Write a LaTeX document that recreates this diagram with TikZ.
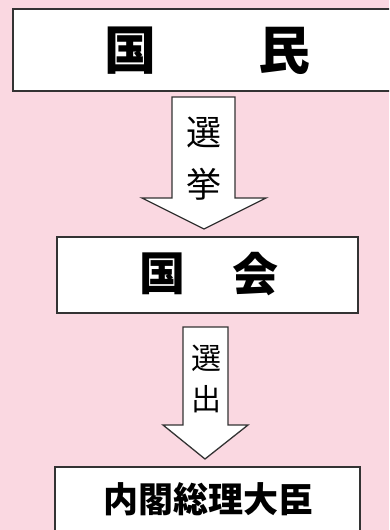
\documentclass[tikz,border=0pt]{standalone}
\usepackage{fontspec}
\newfontfamily\jpfont{Noto Sans CJK JP}
\definecolor{bgpink}{HTML}{FAD8E1}
\definecolor{edge}{HTML}{333333}
\begin{document}
\begin{tikzpicture}[x=1pt,y=-1pt,
  box/.style={draw=edge,line width=2pt,fill=white},
  bigtxt/.style={font=\jpfont\bfseries\fontsize{52}{52}\selectfont,inner sep=0pt},
  midtxt/.style={font=\jpfont\bfseries\fontsize{46}{46}\selectfont,inner sep=0pt},
  smtxt/.style={font=\jpfont\bfseries\fontsize{35}{35}\selectfont,inner sep=0pt},
  arrtxt/.style={font=\jpfont\fontsize{#1}{#1}\selectfont,inner sep=0pt},
  blockarrow/.style={draw=edge,line width=1.3pt,fill=white,line join=miter}]
\useasboundingbox (0,0) rectangle (389,530);
\fill[bgpink] (0,0) rectangle (389,530);
\begin{scope}
\clip (0,0) rectangle (389,530);
% top box
\draw[box] (13,9) rectangle (400,91);
\node[bigtxt] (kuni1) at (130,51) {国};
\node[bigtxt] (min) at (284,51) {民};
% arrow 1
\draw[blockarrow] (172,97) -- (235,97) -- (235,198) -- (266,198) -- (204,229) -- (142,198) -- (172,198) -- cycle;
\node[arrtxt=35] (sen1) at (204,132) {選};
\node[arrtxt=35] (kyo) at (204,184) {挙};
% middle box
\draw[box] (57,237) rectangle (358,313);
\node[midtxt] (kuni2) at (162,274) {国};
\node[midtxt] (kai) at (255,274) {会};
% arrow 2
\draw[blockarrow] (183,327) -- (228,327) -- (228,425) -- (248,425) -- (205,459) -- (163,425) -- (183,425) -- cycle;
\node[arrtxt=30] (sen2) at (206,358) {選};
\node[arrtxt=30] (shutsu) at (206,399) {出};
% bottom box
\draw[box] (55,467) rectangle (360,540);
\node[smtxt] (naikaku) at (208,499) {内閣総理大臣};
\end{scope}
\end{tikzpicture}
\end{document}
